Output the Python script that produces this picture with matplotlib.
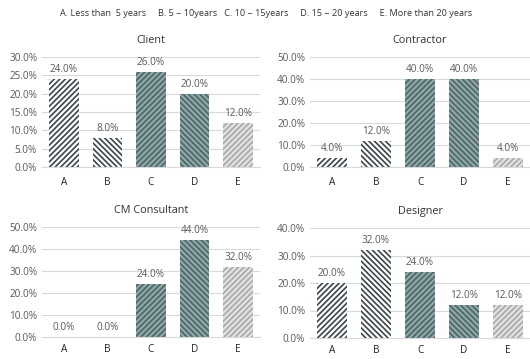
import matplotlib.pyplot as plt

categories = ['A', 'B', 'C', 'D', 'E']
client = [24.0, 8.0, 26.0, 20.0, 12.0]
contractor = [4.0, 12.0, 40.0, 40.0, 4.0]
cm_consultant = [0.0, 0.0, 24.0, 44.0, 32.0]
designer = [20.0, 32.0, 24.0, 12.0, 12.0]
legend_text = ('A. Less than  5 years     B. 5 ~ 10years   C. 10 ~ 15years     '
               'D. 15 ~ 20 years     E. More than 20 years')

plt.rcParams['font.family'] = ['Open Sans', 'DejaVu Sans']
plt.rcParams['hatch.linewidth'] = 1.2

text_col = '#595959'
faces = ['white', 'white', '#8ea7a9', '#8ea7a9', '#e2e2e2']
hatch_cols = ['#3a454b', '#3a454b', '#4d6567', '#4d6567', '#a8a8a8']
hatches = ['//////', '\\\\\\\\\\\\', '//////', '\\\\\\\\\\\\', '//////']

fig = plt.figure(figsize=(5.3, 3.59), dpi=100)
fig.text(0.502, 0.962, legend_text, ha='center', va='center', fontsize=6.6, color='#333333')

# axes boxes in pixels: left, top, right, bottom, x label pad
boxes = [
    (42, 57, 260, 167, 'Client', client, 30, 5, 7),
    (310, 57, 530, 167, 'Contractor', contractor, 50, 10, 7),
    (42, 227, 260, 337, 'CM Consultant', cm_consultant, 50, 10, 5),
    (310, 228, 530, 338, 'Designer', designer, 40, 10, 5),
]
W, H = 530, 359
for l, t, r, b, title, vals, ymax, step, xpad in boxes:
    ax = fig.add_axes([l / W, 1 - b / H, (r - l) / W, (b - t) / H])
    bars = ax.bar(categories, vals, width=0.68, color=faces, edgecolor=hatch_cols,
                  linewidth=0, zorder=2)
    for bar, h in zip(bars, hatches):
        bar.set_hatch(h)
    for i, v in enumerate(vals):
        ax.text(i, v + ymax * 0.035, f'{v:.1f}%', ha='center', va='bottom',
                fontsize=7.2, color=text_col)
    ax.set_ylim(0, ymax)
    ax.set_xlim(-0.5, 4.5)
    ax.set_yticks(range(0, ymax + 1, step))
    ax.set_yticklabels([f'{y:.1f}%' for y in range(0, ymax + 1, step)])
    ax.grid(axis='y', color='#d9d9d9', linewidth=0.8, zorder=0)
    for s in ['top', 'right', 'left']:
        ax.spines[s].set_visible(False)
    ax.spines['bottom'].set_color('#d9d9d9')
    ax.tick_params(axis='both', length=0, labelsize=7.2, colors=text_col)
    ax.tick_params(axis='x', pad=xpad, labelcolor='#222222')
    ax.set_title(title, fontsize=7.8, color='#333333', pad=10)

fig.savefig('out.png', dpi=100)
